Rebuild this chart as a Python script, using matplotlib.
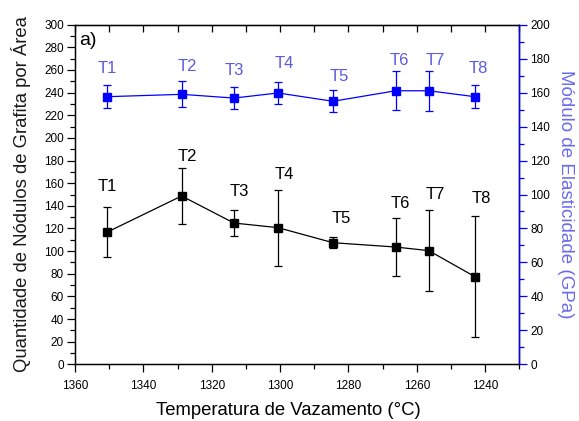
import matplotlib
matplotlib.use("Agg")
import matplotlib.pyplot as plt
from matplotlib.ticker import MultipleLocator

plt.rcParams['font.family'] = ['Liberation Sans', 'DejaVu Sans']

# Pouring temperatures (°C) for the eight castings
labels = ["T1", "T2", "T3", "T4", "T5", "T6", "T7", "T8"]
temperature = [1350.7, 1328.8, 1313.5, 1300.6, 1284.5, 1266.2, 1256.5, 1243.0]

# Graphite nodule count per area (left axis)
nodules = [116.6, 148.7, 124.8, 120.7, 107.4, 103.6, 100.4, 77.4]
nodules_err = [22.0, 24.5, 11.3, 33.7, 5.0, 25.6, 36.0, 53.6]

# Elastic modulus, GPa (right axis)
modulus = [157.6, 159.0, 156.8, 159.8, 154.9, 161.1, 161.1, 157.6]
modulus_err = [6.8, 7.7, 6.3, 6.6, 6.4, 11.5, 11.7, 6.7]

# Text anchor points for the sample tags (data coordinates of each axis)
black_tag_xy = [(1350.4, 157), (1327, 183.4), (1312, 152.5), (1298.8, 167.8),
                (1282, 129), (1264.9, 142), (1254.5, 149.6), (1241, 146.5)]
blue_tag_xy = [(1350.4, 174.3), (1327, 175.3), (1313.4, 173.3), (1298.8, 177.3),
               (1282.6, 169.4), (1265, 179.2), (1254.7, 179.2), (1242, 174.3)]

fig = plt.figure(figsize=(5.79, 4.21), dpi=100)
ax = fig.add_axes([0.1295, 0.1347, 0.7675, 0.8066])
ax2 = ax.twinx()

blue = "#0000ff"
blue_text = "#5a5ae0"

ax.errorbar(temperature, nodules, yerr=nodules_err, color="black", lw=0.9,
            marker="s", ms=6, capsize=3, elinewidth=0.9, capthick=0.9, zorder=3)
ax2.errorbar(temperature, modulus, yerr=modulus_err, color=blue, lw=0.9,
             marker="s", ms=6, capsize=3, elinewidth=0.9, capthick=0.9, zorder=3)

for lab, (x, y) in zip(labels, black_tag_xy):
    ax.text(x, y, lab, ha="center", va="center", fontsize=12, color="black")
for lab, (x, y) in zip(labels, blue_tag_xy):
    ax2.text(x, y, lab, ha="center", va="center", fontsize=12, color=blue_text)

ax.set_xlim(1360, 1230)
ax.set_ylim(0, 300)
ax2.set_ylim(0, 200)

ax.xaxis.set_major_locator(MultipleLocator(20))
ax.xaxis.set_minor_locator(MultipleLocator(10))
ax.yaxis.set_major_locator(MultipleLocator(20))
ax.yaxis.set_minor_locator(MultipleLocator(10))
ax2.yaxis.set_major_locator(MultipleLocator(20))
ax2.yaxis.set_minor_locator(MultipleLocator(10))

ax.tick_params(axis="x", which="both", direction="out", top=False,
               labelsize=8.5, pad=5)
ax.tick_params(axis="x", which="major", length=6, width=0.9)
ax.tick_params(axis="x", which="minor", length=3.5, width=0.9)
ax.tick_params(axis="y", which="major", direction="out", length=6, width=0.9,
               labelsize=8.5, pad=2)
ax.tick_params(axis="y", which="minor", direction="out", length=3.5, width=0.9)
ax2.tick_params(axis="y", which="major", direction="out", length=6, width=0.9,
                color=blue, labelsize=8.5, pad=2)
ax2.tick_params(axis="y", which="minor", direction="out", length=3.5, width=0.9,
                color=blue)

# Top spine carries inward-pointing ticks without labels
secx = ax.secondary_xaxis("top")
secx.xaxis.set_major_locator(MultipleLocator(20))
secx.xaxis.set_minor_locator(MultipleLocator(10))
secx.tick_params(which="both", direction="in", labeltop=False, width=0.9,
                 length=5)

for s in ax.spines.values():
    s.set_linewidth(1.0)
ax2.spines["right"].set_color(blue)
ax2.spines["right"].set_linewidth(1.0)

ax.set_xlabel("Temperatura de Vazamento (°C)", fontsize=13.3)
ax.xaxis.set_label_coords(0.48, -0.112)
ax.set_ylabel("Quantidade de Nódulos de Grafita por Área", fontsize=13.3,
              color="#1a1a1a", labelpad=9)
ax2.set_ylabel("Módulo de Elasticidade (GPa)", fontsize=13.5, color="#6a6aee",
               rotation=270, labelpad=17)

ax.text(0.010, 0.978, "a)", transform=ax.transAxes, fontsize=14,
        ha="left", va="top", color="black")

fig.savefig("out.png", dpi=100)
